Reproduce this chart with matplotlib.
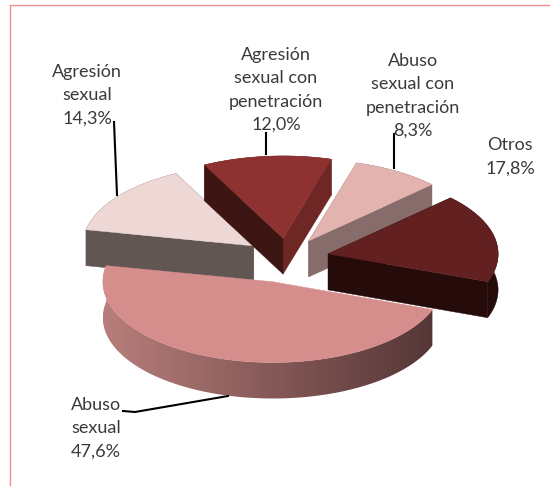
"""Exploded 3D-look pie of case types, drawn by hand on a pixel-sized axes."""

import numpy as np
import matplotlib

matplotlib.use("Agg")
import matplotlib.pyplot as plt
from matplotlib.colors import LinearSegmentedColormap
from matplotlib.patches import Polygon

labels = [
    "Agresión\nsexual con\npenetración",
    "Abuso\nsexual con\npenetración",
    "Otros",
    "Abuso\nsexual",
    "Agresión\nsexual",
]
values = [12.0, 8.3, 17.8, 47.6, 14.3]

top_colors = ["#8e3231", "#e3b3b0", "#622020", "#d58e8c", "#eed8d6"]
start_wall_colors = ["#3d1512", "#866c6a", "#250b09", "#553636", "#625653"]
end_wall_colors = ["#6f2725", "#866c6a", "#250b09", "#b87e7b", "#625653"]
rim_colors = ["#6f2725", "#866c6a", "#250b09", None, "#625653"]
explode = [42, 42, 42, 52, 42]
radius = [173, 171, 170, 170, 171]
label_xy = [(276, 90), (413, 96), (510, 157), (96, 428), (87, 95)]
label_color = "#3a3a3a"

center_x, center_y = 287, 258
squash = 0.475
depth = 36
start_angle = 117.0

plt.rcParams["font.family"] = ["Lato", "DejaVu Sans"]

fig = plt.figure(figsize=(5.5, 4.86), dpi=100)
ax = fig.add_axes([0, 0, 1, 1])
ax.set_xlim(0, 550)
ax.set_ylim(486, 0)
ax.axis("off")

# chart frame, only top and left reach inside the crop
ax.plot([10, 10, 550], [486, 5, 5], color="#ee9090", lw=1.0)


def project(apex, r, deg):
    rad = np.radians(deg)
    return apex[0] + r * np.cos(rad), apex[1] - squash * r * np.sin(rad)


def arc_points(apex, r, a0, a1):
    angles = np.linspace(a0, a1, 90)
    xs, ys = project(apex, r, angles)
    return np.column_stack([xs, ys])


def wall(points, color, z):
    shifted = points[::-1] + [0, depth]
    ax.add_patch(Polygon(np.vstack([points, shifted]), closed=True, fc=color, ec=color, lw=0.3, zorder=z))


# back slices first so the front ones paint over them
draw_order = [1, 4, 0, 2, 3]
sweeps = 360.0 * np.array(values) / sum(values)
starts = start_angle - np.concatenate([[0], np.cumsum(sweeps)[:-1]])

for z, i in enumerate(draw_order):
    a0, a1 = starts[i], starts[i] - sweeps[i]
    mid = (a0 + a1) / 2
    apex = np.array(project((center_x, center_y), explode[i], mid))
    arc = arc_points(apex, radius[i], a0, a1)
    base = 2 + z * 2

    if rim_colors[i] is None:
        # the big slice has a shaded rim running from left to right
        patch = Polygon(np.vstack([arc, arc[::-1] + [0, depth]]), closed=True, fc="none", ec="none")
        ax.add_patch(patch)
        shade = LinearSegmentedColormap.from_list("rim", [end_wall_colors[i], start_wall_colors[i]])
        img = ax.imshow(
            np.linspace(0, 1, 256)[None, :],
            cmap=shade,
            extent=[arc[:, 0].min(), arc[:, 0].max(), 486, 0],
            aspect="auto",
            zorder=base,
        )
        img.set_clip_path(patch)
        ax.set_xlim(0, 550)
        ax.set_ylim(486, 0)
    else:
        wall(arc, rim_colors[i], base)
        wall(np.array([apex, arc[-1]]), end_wall_colors[i], base)
        wall(np.array([apex, arc[0]]), start_wall_colors[i], base)

    top = np.vstack([apex, arc])
    ax.add_patch(Polygon(top, closed=True, fc=top_colors[i], ec=top_colors[i], lw=0.3, zorder=base + 1))

# leader lines
ax.plot([114, 117], [122, 195], color="black", lw=1.5, zorder=30)
ax.plot([266, 266], [133, 154], color="black", lw=1.5, zorder=30)
ax.plot([394, 394], [134, 168], color="black", lw=1.5, zorder=30)
ax.plot([123, 135, 228], [411, 412, 396], color="black", lw=1.5, zorder=30)

for text, value, (x, y) in zip(labels, values, label_xy):
    shown = f"{value:.1f}%".replace(".", ",")
    ax.text(
        x,
        y,
        f"{text}\n{shown}",
        ha="center",
        va="center",
        fontsize=13,
        color=label_color,
        linespacing=1.56,
        zorder=31,
    )

fig.savefig("out.png", dpi=100)
plt.close(fig)
